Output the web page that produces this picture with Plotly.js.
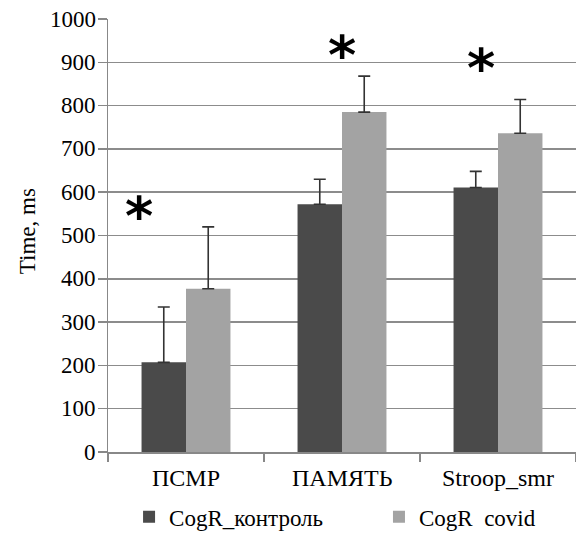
<!DOCTYPE html>
<html><head><meta charset="utf-8">
<script src="https://cdn.plot.ly/plotly-3.0.1.min.js"></script>
<style>body{margin:0;background:#fff}#chart{width:576px;height:538px}</style>
</head><body><div id="chart"></div>
<script>
var categories = ['ПСМР', 'ПАМЯТЬ', 'Stroop_smr'];
var controlName = 'CogR_контроль';
var covidName = 'CogR  covid';
var controlValues = [207, 572, 611];
var controlErrors = [128, 58, 37];
var covidValues = [377, 785, 736];
var covidErrors = [143, 83, 78];
var yTicks = [0, 100, 200, 300, 400, 500, 600, 700, 800, 900, 1000];
var yTitle = 'Time, ms';

var serif = 'Liberation Serif';
var traces = [
  {type: 'bar', name: controlName, x: categories, y: controlValues, legend: 'legend',
   marker: {color: '#4a4a4a'},
   error_y: {type: 'data', symmetric: false, array: controlErrors, arrayminus: [0,0,0],
             color: '#333333', thickness: 1.6, width: 6}},
  {type: 'bar', name: covidName, x: categories, y: covidValues, legend: 'legend2',
   marker: {color: '#a3a3a3'},
   error_y: {type: 'data', symmetric: false, array: covidErrors, arrayminus: [0,0,0],
             color: '#333333', thickness: 1.6, width: 6}}
];
var star = function(x, y){ return {xref: 'x', yref: 'y', x: x, y: y, text: '<b>*</b>', showarrow: false,
  font: {family: 'DejaVu Sans', size: 54, color: '#000'}, yanchor: 'middle'}; };
var annotations = [star(-0.3, 545), star(1.0, 915), star(1.89, 885)];
yTicks.forEach(function(v){
  annotations.push({xref: 'paper', yref: 'y', x: 0, y: v, xanchor: 'right', yanchor: 'middle',
    xshift: -10, text: String(v), showarrow: false, font: {family: serif, size: 23, color: '#000'}});
});
categories.forEach(function(c){
  annotations.push({xref: 'x', yref: 'paper', x: c, y: 0, xanchor: 'center', yanchor: 'middle',
    yshift: -26, text: c, showarrow: false, font: {family: serif, size: 24, color: '#000'}});
});
annotations.push({xref: 'paper', yref: 'paper', x: -0.173, y: 0.51, xanchor: 'center', yanchor: 'middle',
  textangle: -90, text: yTitle, showarrow: false, font: {family: serif, size: 23, color: '#000'}});

var legendCommon = {orientation: 'h', xanchor: 'left', y: -0.1, yanchor: 'top',
  font: {family: serif, size: 23, color: '#000'}, bgcolor: 'rgba(0,0,0,0)'};
var layout = {
  width: 576, height: 538,
  margin: {l: 108, r: 0, t: 19, b: 86, autoexpand: false},
  paper_bgcolor: '#fff', plot_bgcolor: '#fff',
  barmode: 'group', bargap: 0.43, bargroupgap: 0,
  font: {family: serif, size: 23, color: '#000'},
  xaxis: {type: 'category', showgrid: false, showline: true, linecolor: '#888', linewidth: 1.5,
          ticks: 'outside', tickson: 'boundaries', ticklen: 8, tickcolor: '#888', tickwidth: 1.5,
          showticklabels: false, range: [-0.5, 2.5], automargin: false},
  yaxis: {range: [0, 1000], tickmode: 'array', tickvals: yTicks, showticklabels: false,
          showgrid: true, gridcolor: '#8c8c8c', gridwidth: 1.5,
          showline: true, linecolor: '#888', linewidth: 1.5, ticks: 'outside', ticklen: 9,
          tickcolor: '#888', tickwidth: 1.5, zeroline: false, automargin: false},
  showlegend: true,
  legend: Object.assign({x: 0.045}, legendCommon),
  legend2: Object.assign({x: 0.579}, legendCommon),
  annotations: annotations
};
Plotly.newPlot('chart', traces, layout, {staticPlot: true});
</script></body></html>
